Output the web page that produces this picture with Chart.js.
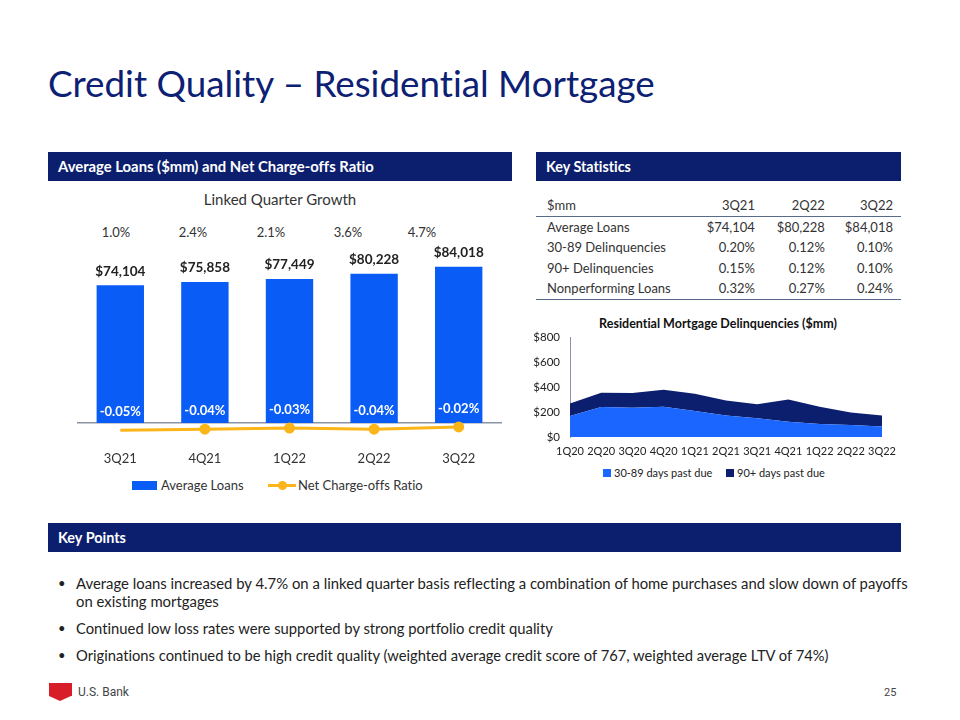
<!DOCTYPE html>
<html><head><meta charset="utf-8">
<script src="https://cdn.jsdelivr.net/npm/chart.js@4.4.0/dist/chart.umd.min.js"></script>
<style>
html,body{margin:0;padding:0;background:#fff;}
body{width:960px;height:720px;position:relative;overflow:hidden;font-family:Lato,"Noto Sans",sans-serif;color:#333;font-variant-ligatures:none;}
.abs{position:absolute;white-space:nowrap;}
.fit{display:inline-block;white-space:nowrap;}
#title{left:48px;top:62px;font-size:40px;color:#0c2074;line-height:1;}
.hdr{position:absolute;background:#0c1f6e;height:29px;}
.hdr span{position:absolute;left:10px;top:6px;color:#fff;font-weight:bold;font-size:15px;line-height:17px;}
table{border-collapse:collapse;font-size:13px;color:#333;}
td{padding:0;height:20.5px;}
.bl{position:absolute;left:58px;width:860px;font-size:15.5px;color:#222;line-height:18px;}
.bl .dot{position:absolute;left:0;top:0;font-size:13px;}
.bl .t{position:absolute;left:18px;top:0;white-space:nowrap;width:840px;}
</style></head>
<body>
<div id="title" class="abs"><span class="fit" data-w="607">Credit Quality – Residential Mortgage</span></div>

<div class="hdr" style="left:48px;top:152px;width:464px;"><span class="fit" data-w="316">Average Loans ($mm) and Net Charge-offs Ratio</span></div>
<div class="hdr" style="left:536px;top:152px;width:365px;"><span class="fit" data-w="85">Key Statistics</span></div>
<div class="hdr" style="left:48px;top:523px;width:853px;"><span class="fit" data-w="68">Key Points</span></div>

<div class="abs" style="left:50px;width:460px;top:190px;text-align:center;font-size:15px;color:#333;">Linked Quarter Growth</div>
<div id="growth"></div>

<div style="position:absolute;left:48px;top:185px;width:464px;height:290px;"><canvas id="c1"></canvas></div>
<div id="leg1" style="position:absolute;left:48px;top:476px;width:464px;height:18px;font-size:13px;color:#333;"></div>

<div id="tbl" style="position:absolute;left:536px;top:195px;width:365px;"></div>

<div class="abs" style="left:520px;width:396px;top:316px;text-align:center;font-size:12.5px;font-weight:bold;color:#111;">Residential Mortgage Delinquencies ($mm)</div>
<div style="position:absolute;left:520px;top:310px;width:390px;height:152px;"><canvas id="c2"></canvas></div>
<div id="leg2" style="position:absolute;left:520px;top:466px;width:390px;height:16px;font-size:11px;color:#222;"></div>

<div id="bullets"></div>

<div style="position:absolute;left:49px;top:683px;width:23px;height:13px;background:#d71e28;"></div>
<div style="position:absolute;left:49px;top:696px;width:0;height:0;border-left:11.5px solid transparent;border-right:11.5px solid transparent;border-top:5px solid #d71e28;"></div>
<div class="abs" style="left:78px;top:685px;font-family:Roboto,sans-serif;font-size:12px;color:#444;">U.S. Bank</div>
<div class="abs" style="left:884px;top:686px;font-family:Roboto,sans-serif;font-size:11px;color:#444;">25</div>

<script>
// ---------- DATA ----------
const quarters = ['3Q21','4Q21','1Q22','2Q22','3Q22'];
const avgLoans = [74104, 75858, 77449, 80228, 84018];
const ncoRatio = [-0.05, -0.04, -0.03, -0.04, -0.02];
const growth = ['1.0%','2.4%','2.1%','3.6%','4.7%'];

const tableCols = ['$mm','3Q21','2Q22','3Q22'];
const tableRowLabels = ['Average Loans','30-89 Delinquencies','90+ Delinquencies','Nonperforming Loans'];
const tableRowValues = [
  ['$74,104','$80,228','$84,018'],
  ['0.20%','0.12%','0.10%'],
  ['0.15%','0.12%','0.10%'],
  ['0.32%','0.27%','0.24%']
];

const delqQuarters = ['1Q20','2Q20','3Q20','4Q20','1Q21','2Q21','3Q21','4Q21','1Q22','2Q22','3Q22'];
const delq30_89 = [168, 240, 235, 243, 208, 173, 150, 123, 104, 97, 85];
const delq90plus = [101, 115, 117, 136, 139, 120, 113, 178, 139, 100, 88];
const delqTicks = [0, 200, 400, 600, 800];

const bulletLines = [
  ['Average loans increased by 4.7% on a linked quarter basis reflecting a combination of home purchases and slow down of payoffs','on existing mortgages'],
  ['Continued low loss rates were supported by strong portfolio credit quality'],
  ['Originations continued to be high credit quality (weighted average credit score of 767, weighted average LTV of 74%)']
];

// ---------- COLORS ----------
const BAR = '#0a5cf6', GOLD = '#fbb518', NAVY = '#0c1f6e', LIGHT = '#1a66ff';

// growth labels
const gx = [116,193,271,348,422];
document.getElementById('growth').innerHTML = growth.map((g,i)=>
  `<div class="abs" style="left:${gx[i]-30}px;width:60px;text-align:center;top:224px;font-size:13px;color:#333;">${g}</div>`).join('');

// table
let th = '<table style="width:365px">';
th += '<tr style="border-bottom:1.5px solid #5a6a8a">' + tableCols.map((c,i)=>`<td style="text-align:${i?'right':'left'};${i==0?'padding-left:11px':''}${i==3?';padding-right:8px':''};width:${[170,43,73,71][i]}px">${c}</td>`).join('') + '</tr>';
tableRowLabels.forEach((r,ri)=>{
  th += `<tr${ri==3?' style="border-bottom:1.5px solid #5a6a8a"':''}><td style="padding-left:11px">${r}</td>` +
    tableRowValues[ri].map((v,i)=>`<td style="text-align:right;${i==2?'padding-right:8px':''}">${v}</td>`).join('') + '</tr>';
});
th += '</table>';
document.getElementById('tbl').innerHTML = th;

// bullets
const btops = [574, 619, 646];
let bh = '';
bulletLines.forEach((lines,i)=>{
  bh += `<div class="bl" style="top:${btops[i]}px;"><span class="dot">•</span>` +
    lines.map((l,j)=>`<div class="t" style="top:${j*18}px"><span class="fit" ${j==0?`data-w="${[832,477,753][i]}"`:''}>${l}</span></div>`).join('') + '</div>';
});
document.getElementById('bullets').innerHTML = bh;

// fit text
document.querySelectorAll('.fit[data-w]').forEach(el=>{
  const target = +el.dataset.w;
  const fs = parseFloat(getComputedStyle(el).fontSize);
  const w = el.getBoundingClientRect().width;
  el.style.fontSize = (fs*target/w).toFixed(2)+'px';
});
document.querySelectorAll('.bl').forEach(b=>{
  const f = b.querySelector('.fit[data-w]');
  b.querySelectorAll('.fit').forEach(e=>e.style.fontSize=f.style.fontSize);
});

Chart.defaults.font.family = 'Lato, "Noto Sans", sans-serif';
Chart.defaults.color = '#333';

// ---------- LEFT CHART ----------
const labelPlugin = {
  id:'lbl',
  afterDatasetsDraw(chart){
    const ctx = chart.ctx;
    ctx.save();
    ctx.textAlign='center'; ctx.textBaseline='middle';
    const m0 = chart.getDatasetMeta(0);
    ctx.font = 'bold 13.5px Lato, sans-serif'; ctx.fillStyle='#222';
    m0.data.forEach((b,i)=>{
      ctx.fillText('$'+avgLoans[i].toLocaleString('en-US'), b.x, b.y-14);
    });
    const m1 = chart.getDatasetMeta(1);
    ctx.font = 'bold 13px Lato, sans-serif'; ctx.fillStyle='#fff';
    m1.data.forEach((p,i)=>{
      ctx.fillText(ncoRatio[i].toFixed(2)+'%', p.x, p.y-18);
    });
    ctx.restore();
  }
};
new Chart(document.getElementById('c1'),{
  data:{labels:quarters,datasets:[
    {type:'bar',label:'Average Loans',data:avgLoans,backgroundColor:BAR,barPercentage:0.56,categoryPercentage:1,yAxisID:'y',order:2},
    {type:'line',label:'Net Charge-offs Ratio',data:ncoRatio,borderColor:GOLD,backgroundColor:GOLD,borderWidth:3,pointRadius:4,pointHoverRadius:4,yAxisID:'y2',clip:false,order:1}
  ]},
  options:{
    responsive:true,maintainAspectRatio:false,animation:false,
    layout:{padding:{left:30,right:11,top:52,bottom:0}},
    plugins:{legend:{display:false},tooltip:{enabled:false}},
    scales:{
      x:{grid:{display:false,drawTicks:false},border:{display:true,color:'#8a94a6',width:1.5},
         ticks:{padding:28,font:{size:13},color:'#333'},
         afterFit(s){s.height=52;}},
      y:{display:false,min:0,max:100000},
      y2:{display:false,min:0.016,max:0.016+186/110}
    }
  },
  plugins:[labelPlugin]
});
document.getElementById('leg1').innerHTML =
  `<div style="position:absolute;left:84px;top:5px;width:25px;height:9px;background:${BAR}"></div>`+
  `<div class="abs" style="left:113px;top:1px;">Average Loans</div>`+
  `<div style="position:absolute;left:220px;top:8px;width:28px;height:3px;background:${GOLD}"></div>`+
  `<div style="position:absolute;left:230px;top:5px;width:9px;height:9px;border-radius:50%;background:${GOLD}"></div>`+
  `<div class="abs" style="left:250px;top:1px;">Net Charge-offs Ratio</div>`;

// ---------- RIGHT CHART ----------
new Chart(document.getElementById('c2'),{
  type:'line',
  data:{labels:delqQuarters,datasets:[
    {label:'30-89 days past due',data:delq30_89,backgroundColor:LIGHT,borderWidth:0,pointRadius:0,fill:'origin',tension:0},
    {label:'90+ days past due',data:delq90plus,backgroundColor:NAVY,borderWidth:0,pointRadius:0,fill:'-1',tension:0}
  ]},
  options:{
    responsive:true,maintainAspectRatio:false,animation:false,
    layout:{padding:{left:0,right:28,top:27,bottom:0}},
    plugins:{legend:{display:false},tooltip:{enabled:false}},
    scales:{
      x:{offset:false,grid:{display:false,drawTicks:false},border:{display:false},
         ticks:{padding:8,font:{size:11},color:'#222',maxRotation:0,autoSkip:false},
         afterFit(s){s.height=25;}},
      y:{stacked:true,min:0,max:800,grid:{display:false,drawTicks:false},border:{display:true,color:'#8a94a6',width:1},
         afterBuildTicks(s){s.ticks=delqTicks.map(v=>({value:v}));},
         ticks:{padding:10,font:{size:11.5},color:'#222',callback:v=>'$'+v},
         afterFit(s){s.width=50;}}
    }
  }
});
document.getElementById('leg2').innerHTML =
  `<div style="position:absolute;left:83px;top:3px;width:8px;height:8px;background:${LIGHT}"></div>`+
  `<div class="abs" style="left:94px;top:0px;">30-89 days past due</div>`+
  `<div style="position:absolute;left:206px;top:3px;width:8px;height:8px;background:${NAVY}"></div>`+
  `<div class="abs" style="left:217px;top:0px;">90+ days past due</div>`;
</script>
</body></html>
